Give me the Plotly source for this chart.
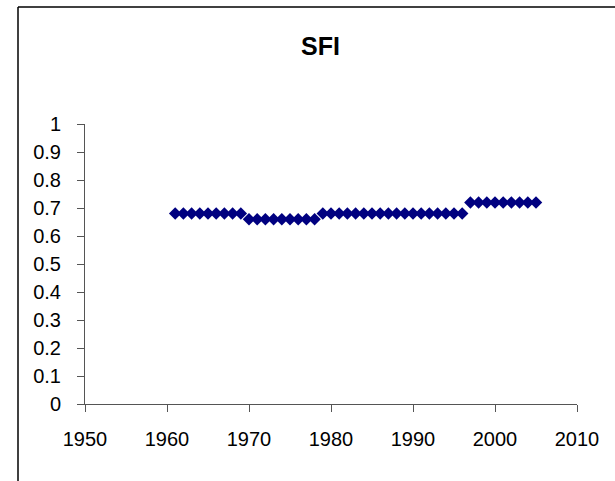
import plotly.graph_objects as go

# SFI index by year
years = list(range(1961, 2006))
sfi = (
    [0.68] * 9      # 1961-1969
    + [0.66] * 9    # 1970-1978
    + [0.68] * 18   # 1979-1996
    + [0.72] * 9    # 1997-2005
)

W, H = 615, 481
L, R, T, B = 85, 38, 124, 77

FAM = "Liberation Sans, Arial, sans-serif"

fig = go.Figure()
fig.add_trace(go.Scatter(
    x=years, y=sfi, mode="markers",
    marker=dict(symbol="diamond", size=9.6, color="#000080", line=dict(width=0)),
    showlegend=False,
))

font = dict(family=FAM, size=20, color="#000000")

fig.update_layout(
    width=W, height=H,
    margin=dict(l=L, r=R, t=T, b=B, pad=0),
    paper_bgcolor="white", plot_bgcolor="white",
    font=font,
    title=dict(
        text="<b>SFI</b>", font=dict(family=FAM, size=25, color="#000"),
        xref="container", yref="container",
        x=320.5 / W, xanchor="center", y=1 - 46 / H, yanchor="middle",
    ),
    xaxis=dict(
        range=[1950, 2010], tickmode="linear", tick0=1950, dtick=10,
        showgrid=False, zeroline=False,
        showline=True, linecolor="#555555", linewidth=1,
        ticks="outside", ticklen=7, tickcolor="#555555", tickwidth=1,
        ticklabelstandoff=10,
    ),
    yaxis=dict(
        range=[0, 1], tickmode="linear", tick0=0, dtick=0.1,
        showgrid=False, zeroline=False,
        showline=True, linecolor="#555555", linewidth=1,
        ticks="outside", ticklen=7, tickcolor="#555555", tickwidth=1,
        ticklabelstandoff=12,
    ),
    shapes=[
        # chart-area frame, running off the right and bottom edges
        dict(type="line", xref="paper", yref="paper",
             x0=(18 - L) / (W - L - R), x1=(18 - L) / (W - L - R),
             y0=(H - B - 7) / (H - T - B), y1=-B / (H - T - B) - 0.1,
             line=dict(color="#000000", width=1.5)),
        dict(type="line", xref="paper", yref="paper",
             x0=(18 - L) / (W - L - R), x1=1 + R / (W - L - R) + 0.1,
             y0=(H - B - 7) / (H - T - B), y1=(H - B - 7) / (H - T - B),
             line=dict(color="#000000", width=1.5)),
    ],
)

fig.write_html("out.html")
